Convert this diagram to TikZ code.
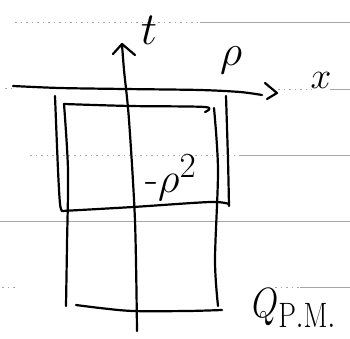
\documentclass[tikz,border=0pt]{standalone}
\usetikzlibrary{calc}
\begin{document}
\begin{tikzpicture}[x=1pt,y=-1pt,
  rule/.style={gray!70,line width=0.6pt},
  ruledot/.style={gray!70,line width=0.6pt,dash pattern=on 1.5pt off 4pt},
  ink/.style={black,line width=2.2pt,line cap=round,line join=round},
  lbl/.style={inner sep=0pt,text=black,font=\Huge,transform shape}]
\useasboundingbox (0,0) rectangle (350,338);
% notebook rules
\draw[ruledot] (15,22) -- (200,22);
\draw[rule] (200,22) -- (350,22);
\draw[ruledot] (5,88) -- (12,88);
\draw[ruledot] (278,89) -- (312,89);
\draw[rule] (330,89) -- (350,89);
\draw[ruledot] (30,155) -- (240,155);
\draw[rule] (240,155) -- (350,155);
\draw[rule] (0,221) -- (350,221);
\draw[ruledot] (2,287) -- (16,287);
\draw[ruledot] (275,287) -- (300,287);
\draw[rule] (300,287) -- (350,287);
% axes
\coordinate (xs) at (13,86);
\coordinate (xe) at (262,95);
\coordinate (xtip) at (277,93);
\draw[ink] plot[smooth] coordinates {(xs) (60,88) (125,89) (200,90) (240,92) (xe)};
\draw[ink] (265,83) -- (xtip) -- (267,99);
\coordinate (ts) at (137,331);
\coordinate (tt) at (122,44);
\draw[ink] plot[smooth] coordinates {(ts) (135,221) (129,120) (124,70) (tt)};
\draw[ink] (113,54) -- (tt) -- (135,55);
% outer box
\draw[ink] plot[smooth] coordinates {(55,96) (58,170) (60,204) (62,211)};
\draw[ink] plot[smooth] coordinates {(62,211) (133,207) (210,202) (229,204)};
\draw[ink] plot[smooth] coordinates {(226,96) (228,160) (229,206)};
% inner box
\draw[ink] plot[smooth] coordinates {(205,112) (205,107) (130,106) (64,104)};
\draw[ink] plot[smooth] coordinates {(64,104) (68,170) (67,245) (66,306)};
\draw[ink] plot[smooth] coordinates {(214,108) (218,170) (215,260) (218,306)};
\draw[ink] plot[smooth] coordinates {(76,305) (100,308) (133,311) (187,311) (222,310)};
% labels
\node[lbl,scale=1.85] (t) at (149,30) {$t$};
\node[lbl,scale=1.75] (rho) at (231,60) {$\rho$};
\node[lbl,scale=1.5] (x) at (321,80) {$x$};
\node[lbl,scale=1.7] (mr) at (171,178) {-$\rho^{2}$};
\node[lbl,xscale=1.36,yscale=1.7] (q) at (294,308) {$Q_{\mathrm{P.M.}}$};
\end{tikzpicture}
\end{document}
